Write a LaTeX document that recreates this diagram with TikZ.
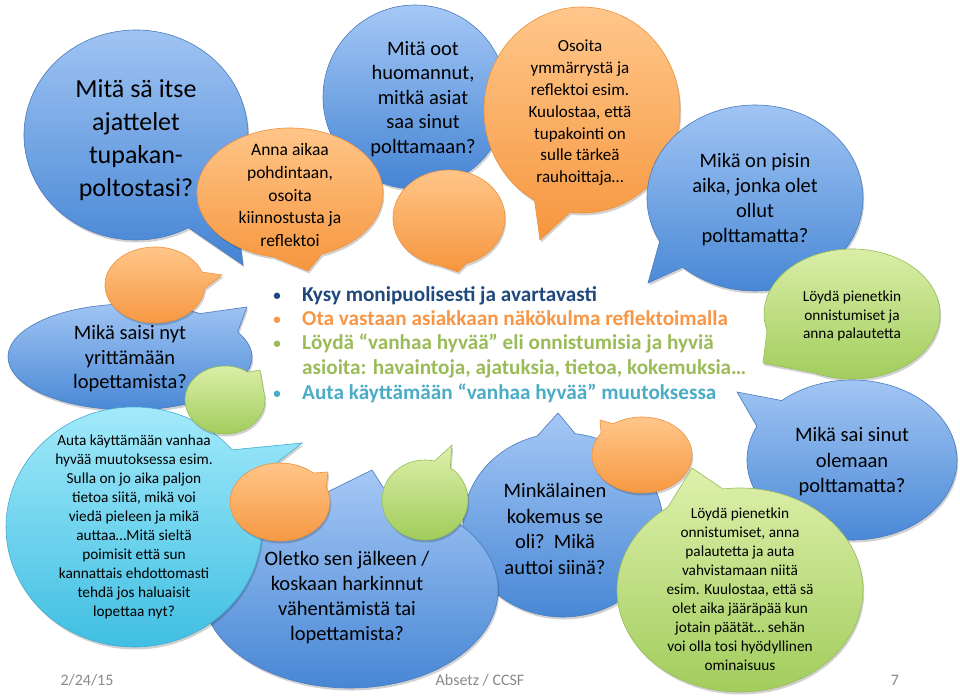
\documentclass[tikz,border=0pt]{standalone}
\usepackage{fontspec}
\setmainfont{Carlito}
\usetikzlibrary{calc,shadows}
\definecolor{btop}{RGB}{165,200,245}
\definecolor{bbot}{RGB}{68,132,212}
\definecolor{bline}{RGB}{72,122,190}
\definecolor{otop}{RGB}{255,200,140}
\definecolor{obot}{RGB}{246,150,62}
\definecolor{oline}{RGB}{238,145,60}
\definecolor{gtop}{RGB}{222,240,172}
\definecolor{gbot}{RGB}{158,203,88}
\definecolor{gline}{RGB}{150,188,84}
\definecolor{ctop}{RGB}{168,236,252}
\definecolor{cbot}{RGB}{58,188,224}
\definecolor{cline}{RGB}{66,172,210}
\definecolor{navy}{RGB}{31,73,125}
\definecolor{ora}{RGB}{247,150,70}
\definecolor{grn}{RGB}{155,187,89}
\definecolor{teal}{RGB}{75,172,198}
\definecolor{foot}{RGB}{137,137,137}
\tikzset{
  shd/.style={drop shadow={shadow xshift=1.2pt,shadow yshift=-2.5pt,opacity=.18,fill=black}},
  bluebub/.style={shd,top color=btop,bottom color=bbot,draw=bline,line width=.6pt},
  orbub/.style={shd,top color=otop,bottom color=obot,draw=oline,line width=.6pt},
  grbub/.style={shd,top color=gtop,bottom color=gbot,draw=gline,line width=.6pt},
  cybub/.style={shd,top color=ctop,bottom color=cbot,draw=cline,line width=.6pt},
  txt/.style={align=center,inner sep=0pt,text=black},
  bline/.style={anchor=base west,inner sep=0pt,font=\bfseries\fontsize{21.2}{24}\selectfont},
  bdot/.style={anchor=base,inner sep=0pt,font=\bfseries\fontsize{15}{18}\selectfont},
  foottxt/.style={anchor=base,inner sep=0pt,text=foot,font=\fontsize{16}{19}\selectfont}
}
% style, cx, cy, rx, ry, a1, a2, tipx, tipy
\newcommand\bub[9]{%
  \path[#1] ($(#2,#3)+(#6:#4pt and #5pt)$) -- (#8,#9) --
    ($(#2,#3)+(#7:#4pt and #5pt)$)
    arc[start angle=#7, end angle=#6+360, x radius=#4pt, y radius=#5pt] -- cycle;}
\begin{document}
\begin{tikzpicture}[x=1pt,y=1pt]
\useasboundingbox[fill=white] (0,0) rectangle (960,696);
% back layer
\path[bluebub] (415,599) ellipse [x radius=92pt, y radius=92pt];
\bub{bluebub}{136}{561}{112}{105}{-62}{-30}{243}{431}
\bub{orbub}{290}{503}{93}{65}{-100}{-70}{308}{425}
\bub{orbub}{449}{478}{56}{48}{-100}{-72}{458}{424}
\bub{orbub}{582}{586}{98}{103}{-119}{-97}{540}{456}
\bub{bluebub}{755}{498}{108}{93}{-152}{-132}{648}{413}
\bub{grbub}{852}{382}{88}{65}{-165}{-115}{763}{333}
\bub{bluebub}{130}{339}{122}{53}{28}{55}{247}{389}
\bub{orbub}{155}{411}{50}{38}{-5}{20}{222}{421}
\bub{bluebub}{852}{236}{105}{80}{132}{155}{737}{304}
\bub{bluebub}{563}{171}{100}{92}{83}{105}{558}{283}
\bub{bluebub}{350}{106}{148}{98}{75}{100}{372}{226}
\bub{cybub}{134}{169}{128}{120}{22}{40}{302}{253}
\bub{grbub}{225}{296}{40}{34}{15}{55}{260}{326}
\bub{orbub}{280}{194}{50}{39}{22}{48}{328}{224}
\bub{grbub}{425}{196}{43}{40}{54}{77}{452}{251}
\bub{orbub}{642}{241}{50}{38}{125}{145}{600}{276}
\bub{grbub}{740}{106}{123}{102}{98}{126}{692}{228}
% texts
\node[txt,font=\fontsize{26}{33}\selectfont] (t1) at (136,556) {Mitä sä itse\\ajattelet\\tupakan-\\poltostasi?};
\node[txt,font=\fontsize{20.5}{24.5}\selectfont] (t2) at (423,597) {Mitä oot\\huomannut,\\mitkä asiat\\saa sinut\\polttamaan?};
\node[txt,font=\fontsize{17.5}{22.7}\selectfont] (t3) at (290,501) {Anna aikaa\\pohdintaan,\\osoita\\kiinnostusta ja\\reflektoi};
\node[txt,font=\fontsize{17}{21.8}\selectfont] (t4) at (580,583) {Osoita\\ymmärrystä ja\\reflektoi esim.\\Kuulostaa, että\\tupakointi on\\sulle tärkeä\\rauhoittaja…};
\node[txt,font=\fontsize{20.5}{25}\selectfont] (t5) at (755,496) {Mikä on pisin\\aika, jonka olet\\ollut\\polttamatta?};
\node[txt,font=\fontsize{15.3}{18.5}\selectfont] (t6) at (852,380) {Löydä pienetkin\\onnistumiset ja\\anna palautetta};
\node[txt,font=\fontsize{20.5}{24.5}\selectfont] (t7) at (130,337) {Mikä saisi nyt\\yrittämään\\lopettamista?};
\node[txt,font=\fontsize{15.3}{19}\selectfont] (t8) at (134,169) {Auta käyttämään vanhaa\\hyvää muutoksessa esim.\\Sulla on jo aika paljon\\tietoa siitä, mikä voi\\viedä pieleen ja mikä\\auttaa…Mitä sieltä\\poimisit että sun\\kannattais ehdottomasti\\tehdä jos haluaisit\\lopettaa nyt?};
\node[txt,font=\fontsize{20.5}{25}\selectfont] (t9) at (347,98) {Oletko sen jälkeen /\\koskaan harkinnut\\vähentämistä tai\\lopettamista?};
\node[txt,font=\fontsize{20.5}{25.5}\selectfont] (t10) at (555,167) {Minkälainen\\kokemus se\\oli?\ \ Mikä\\auttoi siinä?};
\node[txt,font=\fontsize{20.5}{25.5}\selectfont] (t11) at (852,234) {Mikä sai sinut\\olemaan\\polttamatta?};
\node[txt,font=\fontsize{15.3}{19}\selectfont] (t12) at (740,107) {Löydä pienetkin\\onnistumiset, anna\\palautetta ja auta\\vahvistamaan niitä\\esim. Kuulostaa, että sä\\olet aika jääräpää kun\\jotain päätät… sehän\\voi olla tosi hyödyllinen\\ominaisuus};
% bullet list
\node[bdot,text=navy] (d1) at (277,395) {•};
\node[bline,text=navy] (l1) at (302,394) {Kysy monipuolisesti ja avartavasti};
\node[bdot,text=ora] (d2) at (277,371) {•};
\node[bline,text=ora] (l2) at (302,370) {Ota vastaan asiakkaan näkökulma reflektoimalla};
\node[bdot,text=grn] (d3) at (277,347) {•};
\node[bline,text=grn] (l3) at (302,346) {Löydä “vanhaa hyvää” eli onnistumisia ja hyviä};
\node[bline,text=grn] (l4) at (302,321) {asioita: havaintoja, ajatuksia, tietoa, kokemuksia…};
\node[bdot,text=teal] (d5) at (277,297) {•};
\node[bline,text=teal] (l5) at (302,296) {Auta käyttämään “vanhaa hyvää” muutoksessa};
% footer
\node[foottxt] (f1) at (87,11) {2/24/15};
\node[foottxt] (f2) at (480,11) {Absetz / CCSF};
\node[foottxt] (f3) at (895,11) {7};
\end{tikzpicture}
\end{document}
